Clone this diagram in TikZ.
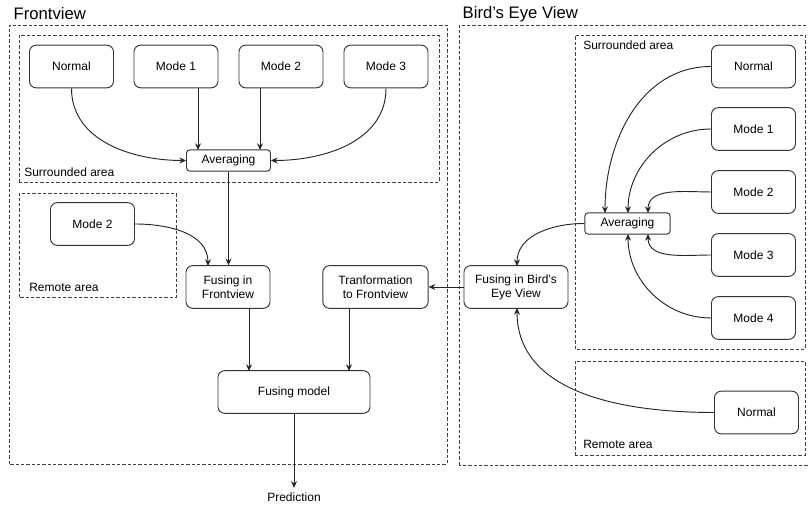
\documentclass[tikz,border=0pt]{standalone}
\usepackage{fontspec}
\setmainfont{Liberation Sans}
\usepackage{tikz}
\usetikzlibrary{arrows.meta}

\begin{document}
\begin{tikzpicture}[x=0.75pt, y=0.75pt, >={Stealth[length=5pt,width=4.5pt]},
  every node/.style={font=\fontsize{9}{10.5}\selectfont},
  box/.style={draw=black!80, line width=0.7pt, rounded corners=5pt, align=center,
    minimum width=63pt, minimum height=32pt, inner sep=1pt},
  flat/.style={box, minimum height=16pt, rounded corners=2.5pt},
  area/.style={draw=black!75, line width=0.6pt, dash pattern=on 2.5pt off 1.5pt},
  title/.style={anchor=west, font=\fontsize{12.5}{14}\selectfont},
  tag/.style={anchor=west, inner sep=0pt},
  link/.style={->, draw=black!85, line width=0.7pt}]
\useasboundingbox (0,0) rectangle (808,506);

\draw[area] (9,42) rectangle (447,481);
\draw[area] (19,324) rectangle (439,471);
\draw[area] (19,209) rectangle (176,313);
\draw[area] (459,41) rectangle (812,481);
\draw[area] (575,157) rectangle (805,471);
\draw[area] (575,51) rectangle (805,145);

\node[title] (tf) at (9,492) {Frontview};
\node[title] (tb) at (458,492) {Bird's Eye View};
\node[tag] (sf) at (24,334) {Surrounded area};
\node[tag] (rf) at (29,219) {Remote area};
\node[tag] (sb) at (583,461) {Surrounded area};
\node[tag] (rb) at (583,62) {Remote area};

\node[box] (nf) at (71.5,439.5) {Normal};
\node[box] (m1f) at (176,439.5) {Mode 1};
\node[box] (m2f) at (281,439.5) {Mode 2};
\node[box] (m3f) at (386,439.5) {Mode 3};
\node[flat] (avf) at (228.5,345.5) {Averaging};
\node[box] (m2r) at (92.5,282) {Mode 2};
\node[box] (fuf) at (228,219) {Fusing in\\Frontview};
\node[box, minimum width=79pt] (tr) at (375.5,219) {Tranformation\\to Frontview};
\node[box, minimum width=114pt] (fm) at (294,114) {Fusing model};
\node (pred) at (294,9) {Prediction};

\node[box] (nb) at (753.5,439.5) {Normal};
\node[box] (m1b) at (753.5,377) {Mode 1};
\node[box] (m2b) at (753.5,314) {Mode 2};
\node[box] (m3b) at (753.5,251) {Mode 3};
\node[box] (m4b) at (753.5,188) {Mode 4};
\node[flat, minimum width=64pt] (avb) at (627.5,282.5) {Averaging};
\node[box, minimum width=78pt] (fub) at (516,219) {Fusing in Bird's\\Eye View};
\node[box] (nr) at (756.5,93.5) {Normal};

\coordinate (a1) at (198,356);
\coordinate (a2) at (260,356);
\coordinate (f1) at (208,240);
\coordinate (g1) at (249,135);
\coordinate (g2) at (349,135);
\coordinate (b1) at (605,293);
\coordinate (b2) at (628,293);
\coordinate (b3) at (648,293);
\coordinate (b4) at (648,272);
\coordinate (b5) at (628,272);
\coordinate (h1) at (517,240);
\coordinate (h2) at (517,198);

\draw[link] (nf.south) to[out=-90, in=180] (avf.west);
\draw[link] (m1f.south -| a1) -- (a1);
\draw[link] (m2f.south -| a2) -- (a2);
\draw[link] (m3f.south) to[out=-90, in=0] (avf.east);
\draw[link] (avf.south) -- (avf.south |- fuf.north);
\draw[link] (m2r.east) to[out=0, in=90] (f1);
\draw[link] (fuf.south -| g1) -- (g1);
\draw[link] (tr.south -| g2) -- (g2);
\draw[link] (fm.south) -- (pred.north);
\draw[link] (fub.west) -- (tr.east);

\draw[link] (nb.west) to[out=180, in=90] (b1);
\draw[link] (m1b.west) to[out=180, in=90] (b2);
\draw[link] (m2b.west) to[out=180, in=90] (b3);
\draw[link] (m3b.west) to[out=180, in=-90] (b4);
\draw[link] (m4b.west) to[out=180, in=-90] (b5);
\draw[link] (avb.west) to[out=180, in=90] (h1);
\draw[link] (nr.west) to[out=180, in=-90] (h2);
\end{tikzpicture}
\end{document}
